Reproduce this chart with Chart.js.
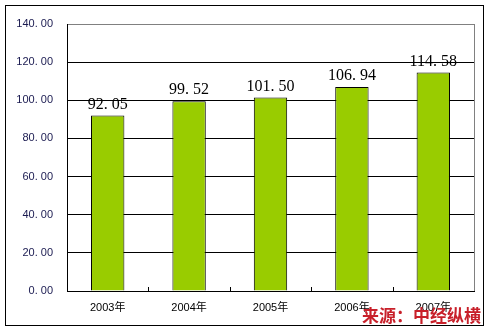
<!DOCTYPE html>
<html lang="zh">
<head>
    <meta charset="UTF-8">
    <title>2003-2007</title>
    <script src="https://cdn.jsdelivr.net/npm/chart.js"></script>
    <style>
        body { margin: 0; background: #fff; }
        #wrap { position: relative; width: 487px; height: 329px; }
        #frame {
            position: absolute; left: 5px; top: 5px; width: 477px; height: 319px;
            border: 1px solid #000; pointer-events: none;
        }
        #src {
            position: absolute; left: 362px; top: 305px;
            font: bold 17px "Noto Sans CJK SC", sans-serif; line-height: 20px;
            color: #c8202a; letter-spacing: 0px;
        }
    </style>
</head>
<body>
<div id="wrap">
    <canvas id="myChart" width="487" height="329"></canvas>
    <div id="frame"></div>
    <div id="src">来源：中经纵横</div>
</div>
<script>
    const years = ['2003年', '2004年', '2005年', '2006年', '2007年'];
    const values = [92.05, 99.52, 101.50, 106.94, 114.58];

    function fmt(v) {
        return v.toFixed(2).replace('.', '. ');
    }

    // labels above bars + plot frame and small inside ticks
    const extras = {
        id: 'extras',
        afterDatasetsDraw(chart) {
            const ctx = chart.ctx;
            const area = chart.chartArea;
            ctx.save();
            ctx.strokeStyle = '#808080';
            ctx.lineWidth = 1;
            ctx.beginPath();
            ctx.moveTo(area.right + 0.5, area.top);
            ctx.lineTo(area.right + 0.5, area.bottom);
            ctx.stroke();

            const x = chart.scales.x;
            ctx.strokeStyle = '#000';
            ctx.beginPath();
            for (let i = 1; i < years.length; i++) {
                const px = Math.round((x.getPixelForTick(i - 1) + x.getPixelForTick(i)) / 2) + 0.5;
                ctx.moveTo(px, area.bottom);
                ctx.lineTo(px, area.bottom - 4);
            }
            ctx.stroke();

            ctx.fillStyle = '#000';
            ctx.font = '16px "Liberation Serif", serif';
            ctx.textAlign = 'center';
            ctx.textBaseline = 'bottom';
            chart.getDatasetMeta(0).data.forEach(function(bar, i) {
                ctx.fillText(fmt(values[i]), bar.x, bar.y - 3);
            });
            ctx.restore();
        }
    };

    new Chart(document.getElementById('myChart'), {
        type: 'bar',
        data: {
            labels: years,
            datasets: [{
                data: values,
                backgroundColor: '#99cc00',
                borderColor: '#000',
                borderWidth: 1,
                categoryPercentage: 1,
                barPercentage: 0.41
            }]
        },
        options: {
            responsive: false,
            animation: false,
            layout: { padding: { top: 24, right: 13, left: 0, bottom: 0 } },
            plugins: { legend: { display: false }, tooltip: { enabled: false } },
            scales: {
                x: {
                    grid: { display: false, drawTicks: false },
                    border: { color: '#000' },
                    ticks: {
                        color: '#000',
                        padding: 10,
                        font: { size: 11, family: '"Liberation Sans", "Noto Sans CJK SC", sans-serif' }
                    },
                    afterFit(scale) { scale.height = 38; }
                },
                y: {
                    min: 0,
                    max: 140,
                    grid: {
                        drawTicks: false,
                        color: function(c) { return c.tick.value === 140 ? '#808080' : '#000'; }
                    },
                    border: { color: '#000' },
                    ticks: {
                        stepSize: 20,
                        padding: 14,
                        color: '#1a1a50',
                        font: { size: 11, family: '"Liberation Sans", sans-serif' },
                        callback: function(v) { return fmt(v); }
                    },
                    afterFit(scale) { scale.width = 67; }
                }
            }
        },
        plugins: [extras]
    });
</script>
</body>
</html>
